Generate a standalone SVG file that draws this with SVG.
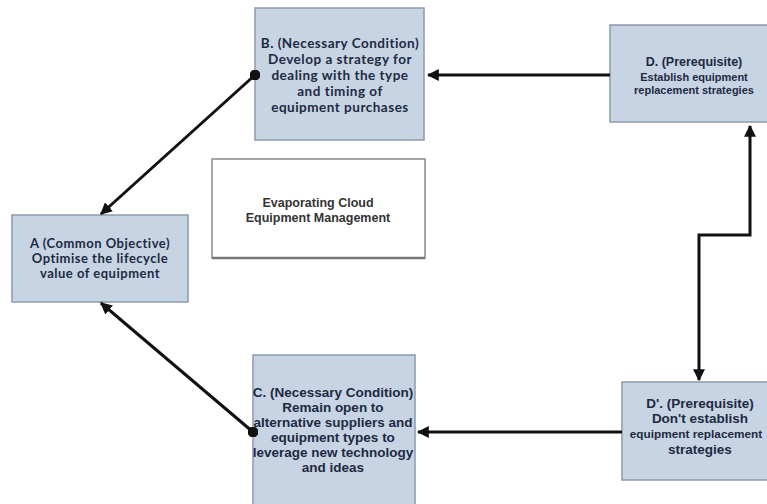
<svg xmlns="http://www.w3.org/2000/svg" width="767" height="504" viewBox="0 0 767 504">
  <defs>
    <marker id="arrow" viewBox="0 0 10 10" refX="9" refY="5" markerWidth="4" markerHeight="4" orient="auto-start-reverse" markerUnits="strokeWidth">
      <path d="M0,0 L10,5 L0,10 z" fill="#111"/>
    </marker>
    <marker id="dot" viewBox="0 0 10 10" refX="5" refY="5" markerWidth="3.6" markerHeight="3.6" markerUnits="strokeWidth">
      <circle cx="5" cy="5" r="5" fill="#111"/>
    </marker>
  </defs>
  <style>
    .box { fill: #c6d4e4; stroke: #8d9bab; stroke-width: 1.5; }
    .title-box { fill: #ffffff; stroke: #8a8a8a; stroke-width: 1.5; }
    .lbl { font-family: "Liberation Sans", Arial, sans-serif; font-weight: bold; fill: #1e2942; text-anchor: middle; }
    .cal { font-family: Lato, "Liberation Sans", sans-serif; font-weight: bold; fill: #1e2942; text-anchor: middle; letter-spacing: 0.5px; }
    .ttl { font-family: "Liberation Sans", Arial, sans-serif; font-weight: bold; fill: #333333; text-anchor: middle; font-size: 12.5px; }
    .conn { fill: none; stroke: #111; stroke-width: 3; }
  </style>
  <rect width="767" height="504" fill="#ffffff"/>

  <!-- title -->
  <g id="title">
    <rect class="title-box" x="212" y="159" width="213" height="99"/>
    <line x1="212" y1="258" x2="425" y2="258" stroke="#777" stroke-width="2.5"/>
    <text class="ttl" x="318" y="207">Evaporating Cloud</text>
    <text class="ttl" x="318" y="222">Equipment Management</text>
  </g>

  <!-- A -->
  <g id="nodeA">
    <rect class="box" x="12" y="215" width="176" height="87"/>
    <text class="cal" font-size="13" x="100" y="248">A (Common Objective)</text>
    <text class="cal" font-size="13" x="100" y="263">Optimise the lifecycle</text>
    <text class="cal" font-size="13" x="100" y="278">value of  equipment</text>
  </g>

  <!-- B -->
  <g id="nodeB">
    <rect class="box" x="255" y="8" width="169" height="132"/>
    <text class="cal" font-size="13.5" x="340" y="48">B. (Necessary Condition)</text>
    <text class="cal" font-size="13.5" x="340" y="64">Develop a strategy for</text>
    <text class="cal" font-size="13.5" x="340" y="80">dealing with the type</text>
    <text class="cal" font-size="13.5" x="340" y="96">and timing  of</text>
    <text class="cal" font-size="13.5" x="340" y="112">equipment purchases</text>
  </g>

  <!-- C -->
  <g id="nodeC">
    <rect class="box" x="253" y="355" width="162" height="155"/>
    <text class="lbl" font-size="13.5" x="333" y="397">C. (Necessary Condition)</text>
    <text class="lbl" font-size="13.5" x="333" y="412">Remain open to</text>
    <text class="lbl" font-size="13.5" x="333" y="427">alternative suppliers and</text>
    <text class="lbl" font-size="13.5" x="333" y="442">equipment types to</text>
    <text class="lbl" font-size="13.5" x="333" y="457">leverage new technology</text>
    <text class="lbl" font-size="13.5" x="333" y="472">and ideas</text>
  </g>

  <!-- D -->
  <g id="nodeD">
    <rect class="box" x="610" y="25" width="162" height="97"/>
    <text class="lbl" font-size="12.5" x="694" y="66">D. (Prerequisite)</text>
    <text class="lbl" font-size="11" x="694" y="81">Establish equipment</text>
    <text class="lbl" font-size="11" x="694" y="94">replacement strategies</text>
  </g>

  <!-- D' -->
  <g id="nodeD2">
    <rect class="box" x="622" y="382" width="150" height="98"/>
    <text class="lbl" font-size="13.5" x="700" y="408">D'. (Prerequisite)</text>
    <text class="lbl" font-size="13.5" x="700" y="423">Don't establish</text>
    <text class="lbl" font-size="11.8" x="696" y="438">equipment replacement</text>
    <text class="lbl" font-size="13.5" x="700" y="454">strategies</text>
  </g>

  <!-- connectors -->
  <g id="connectors">
    <line class="conn" x1="610" y1="75" x2="428" y2="75" marker-end="url(#arrow)"/>
    <line class="conn" x1="255" y1="75" x2="101" y2="214" marker-start="url(#dot)" marker-end="url(#arrow)"/>
    <line class="conn" x1="253" y1="432" x2="101" y2="303" marker-start="url(#dot)" marker-end="url(#arrow)"/>
    <line class="conn" x1="622" y1="432" x2="418" y2="432" marker-end="url(#arrow)"/>
    <polyline class="conn" points="750,126 750,235 699,235 699,380" marker-start="url(#arrow)" marker-end="url(#arrow)"/>
  </g>
</svg>
